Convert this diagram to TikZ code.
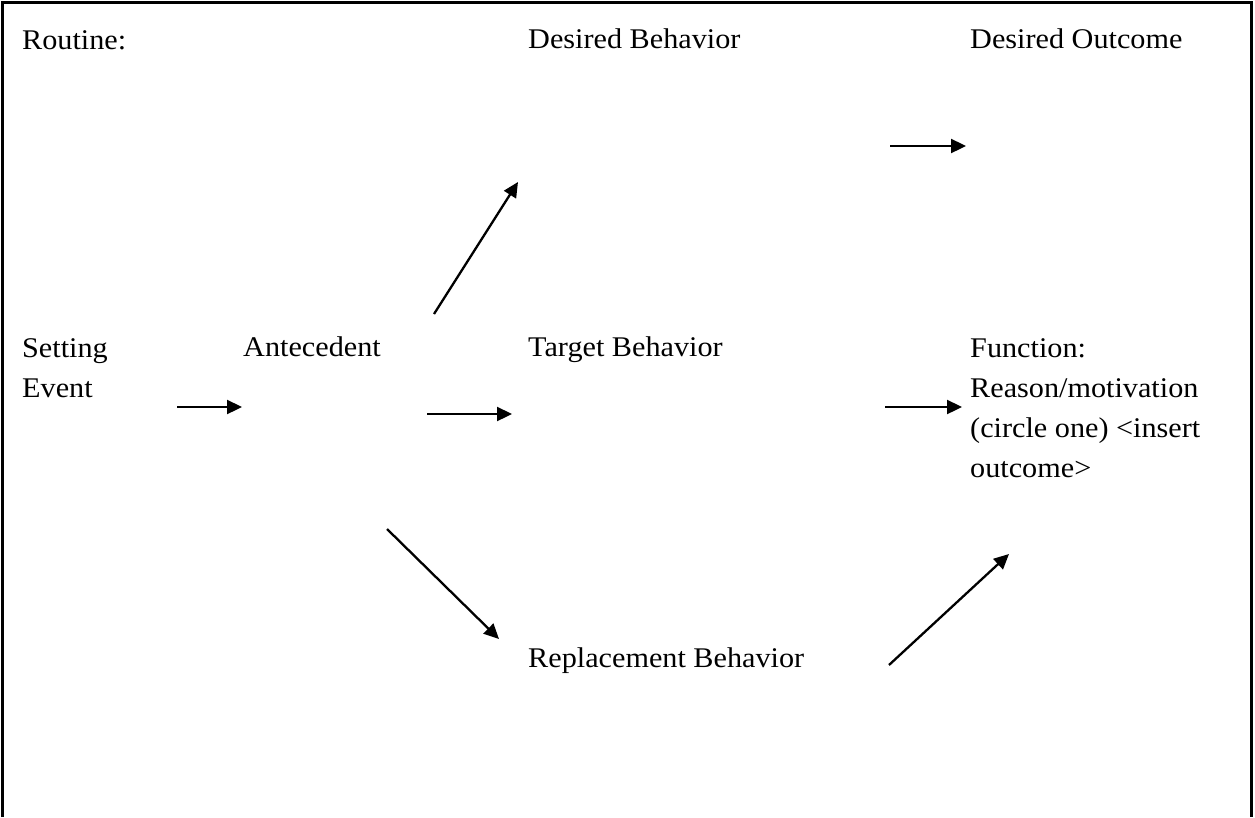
\documentclass[tikz,border=0pt]{standalone}
\usepackage{fontspec}
\setmainfont[FakeStretch=1.06]{Liberation Serif}
\usetikzlibrary{positioning,arrows.meta}
\begin{document}
\begin{tikzpicture}[x=1pt, y=-1pt,
    lbl/.style={anchor=base west, inner sep=0pt, align=left, font=\fontsize{28.5}{40}\selectfont},
    arr/.style={line width=2.3pt, -{Triangle[length=15pt,width=14pt]}}]
    \useasboundingbox (0,0) rectangle (1255,817);
    \draw[line width=3pt] (2,817) -- (2,2) -- (1251,2) -- (1251,817);
    \node[lbl] (routine) at (22,49) {Routine:};
    \node[lbl] (desbeh) at (528,48) {Desired Behavior};
    \node[lbl] (desout) at (970,48) {Desired Outcome};
    \node[lbl] (setting) at (22,397) {Setting\\Event};
    \node[lbl] (antec) at (243,356) {Antecedent};
    \node[lbl] (target) at (528,356) {Target Behavior};
    \node[lbl] (function) at (970,477) {Function:\\Reason/motivation\\(circle one) <insert\\outcome>};
    \node[lbl] (replace) at (528,667) {Replacement Behavior};
    \coordinate (se1) at (177,407);  \coordinate (se2) at (242,407);
    \coordinate (at1) at (427,414);  \coordinate (at2) at (512,414);
    \coordinate (ad1) at (434,314);  \coordinate (ad2) at (518,182);
    \coordinate (ar1) at (387,529);  \coordinate (ar2) at (499,639);
    \coordinate (rf1) at (889,665);  \coordinate (rf2) at (1009,554);
    \coordinate (tf1) at (885,407);  \coordinate (tf2) at (962,407);
    \coordinate (do1) at (890,146);  \coordinate (do2) at (966,146);
    \draw[arr] (se1) -- (se2);
    \draw[arr] (at1) -- (at2);
    \draw[arr] (ad1) -- (ad2);
    \draw[arr] (ar1) -- (ar2);
    \draw[arr] (rf1) -- (rf2);
    \draw[arr] (tf1) -- (tf2);
    \draw[arr] (do1) -- (do2);
\end{tikzpicture}
\end{document}
